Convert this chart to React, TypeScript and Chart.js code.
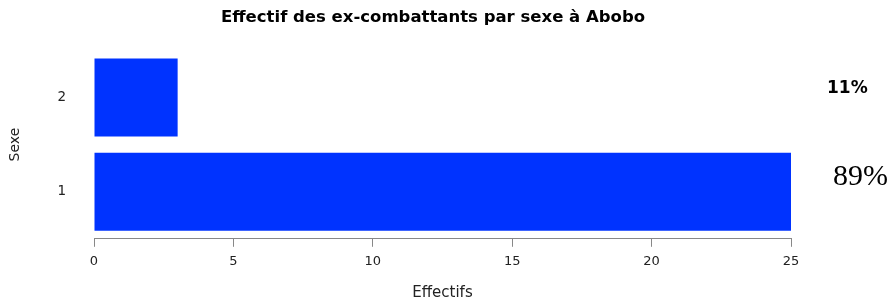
import React, { useEffect, useRef } from "react";
import { Chart, registerables } from "chart.js";

Chart.register(...registerables);

const categories = ["2", "1"];
const effectifs = [3, 25];
const pctLabels = ["11%", "89%"];
const xTickMin = 0;
const xTickMax = 25;
const xTickStep = 5;
const titleText = "Effectif des ex-combattants par sexe à Abobo";
const xTitle = "Effectifs";
const yTitle = "Sexe";

const pctStyles = [
  { font: "bold 17px 'DejaVu Sans'", dx: 36, dy: -4.5 },
  { font: "30px 'Liberation Serif'", dx: 42, dy: -6.7 },
];

const pctPlugin = {
  id: "pctLabels",
  afterDraw(chart: any) {
    const { ctx, scales } = chart;
    const xs = scales.x;
    const ys = scales.y;
    ctx.save();
    ctx.fillStyle = "#000";
    ctx.textAlign = "left";
    ctx.textBaseline = "alphabetic";
    pctLabels.forEach((t, i) => {
      const st = pctStyles[i];
      ctx.font = st.font;
      ctx.fillText(t, xs.right + st.dx, ys.getPixelForValue(i) + st.dy);
    });
    ctx.restore();
  },
};

export default function App() {
  const ref = useRef<HTMLCanvasElement>(null);
  useEffect(() => {
    if (!ref.current) return;
    const chart = new Chart(ref.current, {
      type: "bar",
      data: {
        labels: categories,
        datasets: [
          {
            data: effectifs,
            backgroundColor: "#0033ff",
            borderWidth: 0,
            barPercentage: 0.828,
            categoryPercentage: 1,
            xAxisID: "x",
            yAxisID: "y",
          },
        ],
      },
      options: {
        indexAxis: "y",
        animation: false,
        responsive: false,
        layout: { padding: { left: 0, right: 26, top: 0, bottom: 0 } },
        plugins: {
          legend: { display: false },
          tooltip: { enabled: false },
          title: {
            display: true,
            text: titleText,
            color: "#000",
            font: { family: "'DejaVu Sans'", size: 16.5, weight: "bold" },
            padding: { top: 8.1, bottom: 22.5 },
          },
        },
        scales: {
          x: {
            type: "linear",
            position: "bottom",
            min: xTickMin,
            max: xTickMax,
            ticks: {
              stepSize: xTickStep,
              color: "#222",
              padding: 7.4,
              font: { family: "'DejaVu Sans'", size: 13 },
              maxRotation: 0,
            },
            grid: {
              display: true,
              drawOnChartArea: false,
              drawTicks: true,
              tickLength: 8,
              color: "#888",
            },
            border: { display: true, color: "#888", width: 1 },
            title: {
              display: true,
              text: xTitle,
              color: "#222",
              font: { family: "'DejaVu Sans'", size: 15 },
              padding: { top: 0, bottom: 3 },
            },
            afterFit: (s: any) => {
              s.height = 66.2;
            },
          },
          y: {
            type: "category",
            position: "left",
            grid: { display: false, drawTicks: false },
            border: { display: false },
            ticks: {
              color: "#222",
              padding: 28,
              font: { family: "'DejaVu Sans'", size: 13.5 },
            },
            title: {
              display: true,
              text: yTitle,
              color: "#222",
              font: { family: "'DejaVu Sans'", size: 14 },
              padding: { top: 6.6, bottom: 0 },
            },
            afterFit: (s: any) => {
              s.width = 94;
            },
          },
          r: {
            type: "linear",
            position: "right",
            display: true,
            grid: { display: false, drawTicks: false },
            border: { display: false },
            ticks: { display: false },
            afterFit: (s: any) => {
              s.width = 75;
            },
          },
        },
      } as any,
      plugins: [pctPlugin],
    });
    return () => chart.destroy();
  }, []);
  return (
    <div style={{ position: "absolute", left: 0, top: 0, width: 892, height: 305 }}>
      <canvas ref={ref} width={892} height={305} style={{ display: "block" }} />
    </div>
  );
}
